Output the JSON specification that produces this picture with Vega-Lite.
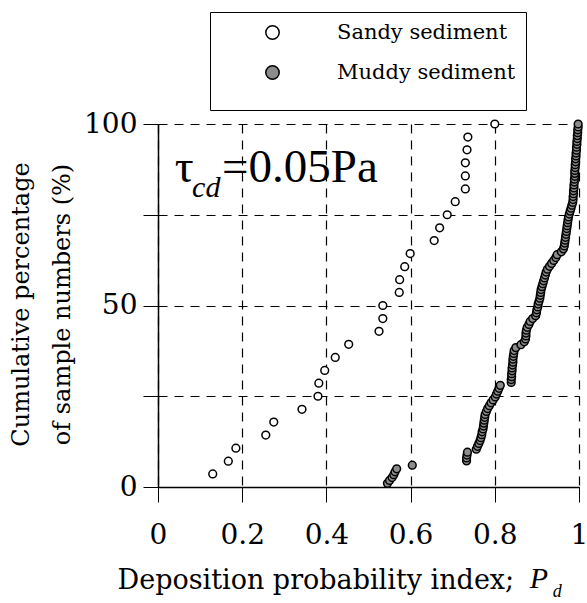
{
"$schema": "https://vega.github.io/schema/vega-lite/v6.json",
"width": 421, "height": 363,
"autosize": {"type": "none"},
"padding": {"left": 158, "top": 124, "right": 8, "bottom": 116},
"background": "white",
"config": {"view": {"stroke": null}, "font": "DejaVu Serif"},
"layer": [
{
"data": {"values": [
{"type":"Sandy sediment","pd":0.130,"cum":3.6},{"type":"Sandy sediment","pd":0.167,"cum":7.1},{"type":"Sandy sediment","pd":0.185,"cum":10.7},{"type":"Sandy sediment","pd":0.256,"cum":14.3},{"type":"Sandy sediment","pd":0.275,"cum":17.9},{"type":"Sandy sediment","pd":0.342,"cum":21.4},{"type":"Sandy sediment","pd":0.380,"cum":25.0},{"type":"Sandy sediment","pd":0.382,"cum":28.6},{"type":"Sandy sediment","pd":0.396,"cum":32.1},{"type":"Sandy sediment","pd":0.421,"cum":35.7},{"type":"Sandy sediment","pd":0.453,"cum":39.3},{"type":"Sandy sediment","pd":0.525,"cum":42.9},{"type":"Sandy sediment","pd":0.534,"cum":46.4},{"type":"Sandy sediment","pd":0.534,"cum":50.0},{"type":"Sandy sediment","pd":0.573,"cum":53.6},{"type":"Sandy sediment","pd":0.574,"cum":57.1},{"type":"Sandy sediment","pd":0.586,"cum":60.7},{"type":"Sandy sediment","pd":0.599,"cum":64.3},{"type":"Sandy sediment","pd":0.656,"cum":67.9},{"type":"Sandy sediment","pd":0.669,"cum":71.4},{"type":"Sandy sediment","pd":0.687,"cum":75.0},{"type":"Sandy sediment","pd":0.706,"cum":78.6},{"type":"Sandy sediment","pd":0.730,"cum":82.1},{"type":"Sandy sediment","pd":0.730,"cum":85.7},{"type":"Sandy sediment","pd":0.730,"cum":89.3},{"type":"Sandy sediment","pd":0.734,"cum":92.9},{"type":"Sandy sediment","pd":0.736,"cum":96.4},{"type":"Sandy sediment","pd":0.800,"cum":100},
{"type":"Muddy sediment","pd":0.545,"cum":1.0},{"type":"Muddy sediment","pd":0.550,"cum":1.8},{"type":"Muddy sediment","pd":0.556,"cum":2.6},{"type":"Muddy sediment","pd":0.560,"cum":3.4},{"type":"Muddy sediment","pd":0.563,"cum":4.2},{"type":"Muddy sediment","pd":0.567,"cum":5.0},{"type":"Muddy sediment","pd":0.604,"cum":6.0},{"type":"Muddy sediment","pd":0.733,"cum":7.2},{"type":"Muddy sediment","pd":0.733,"cum":8.0},{"type":"Muddy sediment","pd":0.734,"cum":8.8},{"type":"Muddy sediment","pd":0.735,"cum":9.6},{"type":"Muddy sediment","pd":0.756,"cum":10.4},{"type":"Muddy sediment","pd":0.759,"cum":11.2},{"type":"Muddy sediment","pd":0.762,"cum":12.0},{"type":"Muddy sediment","pd":0.765,"cum":12.8},{"type":"Muddy sediment","pd":0.767,"cum":13.6},{"type":"Muddy sediment","pd":0.769,"cum":14.4},{"type":"Muddy sediment","pd":0.770,"cum":15.2},{"type":"Muddy sediment","pd":0.772,"cum":16.0},{"type":"Muddy sediment","pd":0.773,"cum":16.8},{"type":"Muddy sediment","pd":0.774,"cum":17.6},{"type":"Muddy sediment","pd":0.775,"cum":18.4},{"type":"Muddy sediment","pd":0.776,"cum":19.2},{"type":"Muddy sediment","pd":0.777,"cum":20.0},{"type":"Muddy sediment","pd":0.780,"cum":20.8},{"type":"Muddy sediment","pd":0.783,"cum":21.6},{"type":"Muddy sediment","pd":0.787,"cum":22.4},{"type":"Muddy sediment","pd":0.791,"cum":23.2},{"type":"Muddy sediment","pd":0.796,"cum":24.0},{"type":"Muddy sediment","pd":0.801,"cum":24.8},{"type":"Muddy sediment","pd":0.804,"cum":25.6},{"type":"Muddy sediment","pd":0.807,"cum":26.4},{"type":"Muddy sediment","pd":0.810,"cum":27.2},{"type":"Muddy sediment","pd":0.813,"cum":28.0},{"type":"Muddy sediment","pd":0.839,"cum":28.8},{"type":"Muddy sediment","pd":0.839,"cum":29.6},{"type":"Muddy sediment","pd":0.840,"cum":30.4},{"type":"Muddy sediment","pd":0.840,"cum":31.2},{"type":"Muddy sediment","pd":0.841,"cum":32.0},{"type":"Muddy sediment","pd":0.841,"cum":32.8},{"type":"Muddy sediment","pd":0.842,"cum":33.6},{"type":"Muddy sediment","pd":0.843,"cum":34.4},{"type":"Muddy sediment","pd":0.843,"cum":35.2},{"type":"Muddy sediment","pd":0.844,"cum":36.0},{"type":"Muddy sediment","pd":0.845,"cum":36.8},{"type":"Muddy sediment","pd":0.846,"cum":37.6},{"type":"Muddy sediment","pd":0.850,"cum":38.4},{"type":"Muddy sediment","pd":0.862,"cum":39.2},{"type":"Muddy sediment","pd":0.870,"cum":40.0},{"type":"Muddy sediment","pd":0.873,"cum":40.8},{"type":"Muddy sediment","pd":0.874,"cum":41.6},{"type":"Muddy sediment","pd":0.874,"cum":42.4},{"type":"Muddy sediment","pd":0.875,"cum":43.2},{"type":"Muddy sediment","pd":0.877,"cum":44.0},{"type":"Muddy sediment","pd":0.881,"cum":44.8},{"type":"Muddy sediment","pd":0.884,"cum":45.6},{"type":"Muddy sediment","pd":0.890,"cum":46.4},{"type":"Muddy sediment","pd":0.897,"cum":47.2},{"type":"Muddy sediment","pd":0.899,"cum":48.0},{"type":"Muddy sediment","pd":0.900,"cum":48.8},{"type":"Muddy sediment","pd":0.902,"cum":49.6},{"type":"Muddy sediment","pd":0.903,"cum":50.4},{"type":"Muddy sediment","pd":0.905,"cum":51.2},{"type":"Muddy sediment","pd":0.907,"cum":52.0},{"type":"Muddy sediment","pd":0.908,"cum":52.8},{"type":"Muddy sediment","pd":0.909,"cum":53.6},{"type":"Muddy sediment","pd":0.910,"cum":54.4},{"type":"Muddy sediment","pd":0.912,"cum":55.2},{"type":"Muddy sediment","pd":0.914,"cum":56.0},{"type":"Muddy sediment","pd":0.916,"cum":56.8},{"type":"Muddy sediment","pd":0.918,"cum":57.6},{"type":"Muddy sediment","pd":0.920,"cum":58.4},{"type":"Muddy sediment","pd":0.922,"cum":59.2},{"type":"Muddy sediment","pd":0.925,"cum":60.0},{"type":"Muddy sediment","pd":0.930,"cum":60.8},{"type":"Muddy sediment","pd":0.935,"cum":61.6},{"type":"Muddy sediment","pd":0.940,"cum":62.4},{"type":"Muddy sediment","pd":0.945,"cum":63.2},{"type":"Muddy sediment","pd":0.948,"cum":64.0},{"type":"Muddy sediment","pd":0.958,"cum":64.8},{"type":"Muddy sediment","pd":0.963,"cum":65.6},{"type":"Muddy sediment","pd":0.965,"cum":66.4},{"type":"Muddy sediment","pd":0.966,"cum":67.2},{"type":"Muddy sediment","pd":0.967,"cum":68.0},{"type":"Muddy sediment","pd":0.968,"cum":68.8},{"type":"Muddy sediment","pd":0.969,"cum":69.6},{"type":"Muddy sediment","pd":0.970,"cum":70.4},{"type":"Muddy sediment","pd":0.971,"cum":71.2},{"type":"Muddy sediment","pd":0.972,"cum":72.0},{"type":"Muddy sediment","pd":0.973,"cum":72.8},{"type":"Muddy sediment","pd":0.974,"cum":73.6},{"type":"Muddy sediment","pd":0.975,"cum":74.4},{"type":"Muddy sediment","pd":0.977,"cum":75.2},{"type":"Muddy sediment","pd":0.979,"cum":76.0},{"type":"Muddy sediment","pd":0.981,"cum":76.8},{"type":"Muddy sediment","pd":0.983,"cum":77.6},{"type":"Muddy sediment","pd":0.985,"cum":78.4},{"type":"Muddy sediment","pd":0.986,"cum":79.2},{"type":"Muddy sediment","pd":0.986,"cum":80.0},{"type":"Muddy sediment","pd":0.987,"cum":80.8},{"type":"Muddy sediment","pd":0.987,"cum":81.6},{"type":"Muddy sediment","pd":0.988,"cum":82.4},{"type":"Muddy sediment","pd":0.988,"cum":83.2},{"type":"Muddy sediment","pd":0.989,"cum":84.0},{"type":"Muddy sediment","pd":0.989,"cum":84.8},{"type":"Muddy sediment","pd":0.990,"cum":85.6},{"type":"Muddy sediment","pd":0.990,"cum":86.4},{"type":"Muddy sediment","pd":0.990,"cum":87.2},{"type":"Muddy sediment","pd":0.991,"cum":88.0},{"type":"Muddy sediment","pd":0.991,"cum":88.8},{"type":"Muddy sediment","pd":0.992,"cum":89.6},{"type":"Muddy sediment","pd":0.992,"cum":90.4},{"type":"Muddy sediment","pd":0.993,"cum":91.2},{"type":"Muddy sediment","pd":0.993,"cum":92.0},{"type":"Muddy sediment","pd":0.994,"cum":92.8},{"type":"Muddy sediment","pd":0.994,"cum":93.6},{"type":"Muddy sediment","pd":0.995,"cum":94.4},{"type":"Muddy sediment","pd":0.995,"cum":95.2},{"type":"Muddy sediment","pd":0.996,"cum":96.0},{"type":"Muddy sediment","pd":0.996,"cum":96.8},{"type":"Muddy sediment","pd":0.997,"cum":97.6},{"type":"Muddy sediment","pd":0.997,"cum":98.4},{"type":"Muddy sediment","pd":0.998,"cum":99.2},{"type":"Muddy sediment","pd":0.998,"cum":100.0}
]},
"mark": {"type": "point", "shape": "circle", "filled": true, "stroke": "black", "strokeWidth": 1.5, "size": 60, "opacity": 1, "fillOpacity": 1, "strokeOpacity": 1},
"encoding": {
"x": {"field": "pd", "type": "quantitative",
"scale": {"domain": [0, 1], "nice": false, "zero": false},
"axis": {"values": [0, 0.2, 0.4, 0.6, 0.8, 1], "format": "~g",
"title": "Deposition probability index;", "titleFont": "DejaVu Serif", "titleFontSize": 27, "titleFontWeight": "normal", "titleColor": "black",
"titleAlign": "left", "titleAnchor": "start", "titleX": -41, "titleY": 101, "titleBaseline": "alphabetic",
"grid": true, "gridColor": "black", "gridDash": [9, 7], "gridWidth": 1.2, "gridOpacity": 1,
"domainColor": "black", "domainWidth": 1.5, "tickColor": "black", "tickSize": 15, "tickWidth": 1,
"labelFont": "DejaVu Serif", "labelFontSize": 28, "labelColor": "black", "labelPadding": 19, "labelFlush": false, "labelOverlap": false}},
"y": {"field": "cum", "type": "quantitative",
"scale": {"domain": [0, 100], "nice": false, "zero": false},
"axis": {"values": [0, 25, 50, 75, 100], "labelExpr": "datum.value % 50 === 0 ? datum.label : ''",
"title": ["Cumulative percentage", "of sample numbers (%)"], "titleFont": "DejaVu Serif", "titleFontSize": 24, "titleFontWeight": "normal", "titleColor": "black",
"titleLineHeight": 41, "titleAngle": -90, "titleX": -137, "titleY": 180, "titleBaseline": "middle", "titleAlign": "center",
"grid": true, "gridColor": "black", "gridDash": [9, 7], "gridWidth": 1.2, "gridOpacity": 1,
"domainColor": "black", "domainWidth": 1.5, "tickColor": "black", "tickSize": 15, "tickWidth": 1,
"labelFont": "DejaVu Serif", "labelFontSize": 28, "labelColor": "black", "labelPadding": 6, "labelFlush": false, "labelOverlap": false}},
"fill": {"field": "type", "type": "nominal",
"scale": {"domain": ["Sandy sediment", "Muddy sediment"], "range": ["white", "#8c8c8c"]},
"legend": {"title": "                                                                                               ", "titleOrient": "bottom", "titleFontSize": 10, "titlePadding": 7,
"orient": "none", "legendX": 52, "legendY": -112, "padding": 10,
"strokeColor": "black", "fillColor": "white",
"symbolType": "circle", "symbolSize": 180, "symbolStrokeWidth": 1.5, "symbolStrokeColor": "black", "symbolOffset": 42,
"labelOffset": 54, "labelFont": "DejaVu Serif", "labelFontSize": 21, "labelColor": "black", "labelLimit": 400, "rowPadding": 18}}
}
},
{"data": {"values": [{}]},
"mark": {"type": "text", "text": "τ", "font": "Liberation Serif, serif", "fontSize": 47, "align": "left", "baseline": "alphabetic", "color": "black"},
"encoding": {"x": {"datum": 0.04, "type": "quantitative"}, "y": {"datum": 84, "type": "quantitative"}}},
{"data": {"values": [{}]},
"mark": {"type": "text", "text": "cd", "font": "Liberation Serif, serif", "fontStyle": "italic", "fontSize": 30, "align": "left", "baseline": "alphabetic", "color": "black"},
"encoding": {"x": {"datum": 0.081, "type": "quantitative"}, "y": {"datum": 79.9, "type": "quantitative"}}},
{"data": {"values": [{}]},
"mark": {"type": "text", "text": "=0.05Pa", "font": "Liberation Serif, serif", "fontSize": 47, "align": "left", "baseline": "alphabetic", "color": "black"},
"encoding": {"x": {"datum": 0.152, "type": "quantitative"}, "y": {"datum": 84, "type": "quantitative"}}},
{"data": {"values": [{}]},
"mark": {"type": "text", "text": "P", "font": "Liberation Serif, serif", "fontStyle": "italic", "fontSize": 30, "align": "left", "baseline": "alphabetic", "color": "black"},
"encoding": {"x": {"datum": 0.883, "type": "quantitative"}, "y": {"datum": -27.7, "type": "quantitative"}}},
{"data": {"values": [{}]},
"mark": {"type": "text", "text": "d", "font": "Liberation Serif, serif", "fontStyle": "italic", "fontSize": 18, "align": "left", "baseline": "alphabetic", "color": "black"},
"encoding": {"x": {"datum": 0.9375, "type": "quantitative"}, "y": {"datum": -30.2, "type": "quantitative"}}}
]
}
